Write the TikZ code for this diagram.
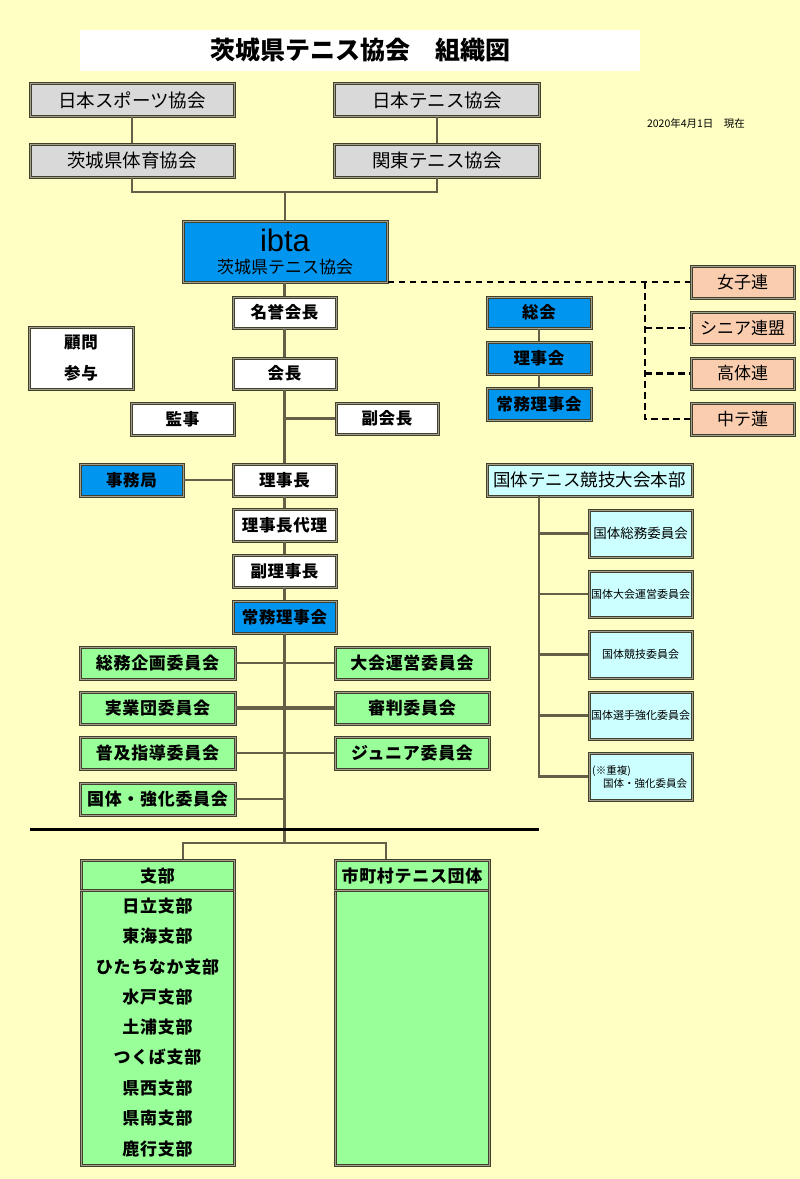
\documentclass[tikz,border=0pt]{standalone}
\usepackage{fontspec}
\setmainfont{Noto Sans CJK JP}
\newfontfamily\lat{Liberation Sans}
\definecolor{bg}{RGB}{255,255,196}
\definecolor{bdr}{RGB}{65,65,45}
\definecolor{bdin}{RGB}{160,160,140}
\definecolor{connc}{RGB}{100,95,70}
\definecolor{grayf}{RGB}{217,217,217}
\definecolor{bluef}{RGB}{0,150,240}
\definecolor{salf}{RGB}{250,205,175}
\definecolor{cyanf}{RGB}{204,255,255}
\definecolor{greenf}{RGB}{153,255,153}
\newcommand{\lspc}{\addfontfeature{LetterSpace=4}}
\begin{document}
\begin{tikzpicture}[x=1pt,y=-1pt,
  obox/.style={draw=bdr, double=bdin, double distance=0.9pt, line width=1.05pt, inner sep=0pt, align=center},
  gbox/.style={obox, fill=grayf, font=\fontsize{18.5}{20}\selectfont},
  wbox/.style={obox, fill=white, font=\bfseries\fontsize{16.5}{18}\selectfont\lspc},
  bbox/.style={obox, fill=bluef, font=\bfseries\fontsize{16.5}{18}\selectfont\lspc},
  sbox/.style={obox, fill=salf, font=\fontsize{17}{19}\selectfont},
  cbox/.style={obox, fill=cyanf, font=\fontsize{17.5}{19}\selectfont},
  grbox/.style={obox, fill=greenf, font=\bfseries\fontsize{17}{19}\selectfont\lspc},
  txt/.style={inner sep=0pt},
  conn/.style={draw=connc, line width=2.8pt},
  dashline/.style={draw=black, line width=2.6pt, dash pattern=on 6.5pt off 4.5pt},
  sepline/.style={draw=bdr, double=bdin, double distance=0.9pt, line width=1.05pt}
]
\useasboundingbox (0,0) rectangle (800,1179);
\fill[bg] (0,0) rectangle (800,1179);

% title
\node[fill=white, minimum width=560pt, minimum height=41pt, inner sep=0pt,
  font=\bfseries\fontsize{25}{26}\selectfont] (title) at (360,50) {茨城県テニス協会　組織図};
\node[txt, font=\fontsize{10.5}{12}\selectfont] (date) at (696,124) {2020年4月1日　現在};

% top gray boxes
\node[gbox, minimum width=204pt, minimum height=33pt] (nsa) at (132,100) {日本スポーツ協会};
\node[gbox, minimum width=205pt, minimum height=33pt] (nta) at (437,100) {日本テニス協会};
\node[gbox, minimum width=204pt, minimum height=33pt] (ita) at (132,160.5) {茨城県体育協会};
\node[gbox, minimum width=205pt, minimum height=33pt] (kta) at (437,160.5) {関東テニス協会};

% ibta
\node[obox, fill=bluef, minimum width=204pt, minimum height=61pt] (ibta) at (285,251.5) {};
\node[txt, font=\lat\fontsize{31}{32}\selectfont] (ibtat) at (285,240) {ibta};
\node[txt, font=\fontsize{17}{19}\selectfont] (ibtas) at (285,267) {茨城県テニス協会};

% salmon boxes
\node[sbox, minimum width=103pt, minimum height=32pt] (jo) at (742.5,282) {女子連};
\node[sbox, minimum width=103pt, minimum height=32pt] (sen) at (742.5,328) {シニア連盟};
\node[sbox, minimum width=103pt, minimum height=31pt] (kou) at (742.5,373.5) {高体連};
\node[sbox, minimum width=103pt, minimum height=32pt] (chu) at (742.5,419) {中テ蓮};

% main chain
\node[wbox, minimum width=103pt, minimum height=31pt] (meiyo) at (284.5,312.5) {名誉会長};
\node[wbox, minimum width=103pt, minimum height=31pt] (kaicho) at (284.5,373.5) {会長};
\node[obox, fill=white, minimum width=104pt, minimum height=62pt] (komon) at (81,358) {};
\node[txt, font=\bfseries\fontsize{16.5}{18}\selectfont\lspc] (komont) at (81,343) {顧問};
\node[txt, font=\bfseries\fontsize{16.5}{18}\selectfont\lspc] (sanyo) at (81,373) {参与};
\node[wbox, minimum width=103pt, minimum height=32pt] (kanji) at (182.5,419) {監事};
\node[wbox, minimum width=102pt, minimum height=31pt] (fuku) at (387,418.5) {副会長};
\node[bbox, minimum width=103pt, minimum height=32pt] (jimu) at (131.5,480) {事務局};
\node[wbox, minimum width=103pt, minimum height=32pt] (rijicho) at (284.5,480) {理事長};
\node[wbox, minimum width=103pt, minimum height=32pt] (dairi) at (284.5,525) {理事長代理};
\node[wbox, minimum width=103pt, minimum height=32pt] (fukuriji) at (284.5,571) {副理事長};
\node[bbox, minimum width=103pt, minimum height=32pt] (jomu) at (284.5,617) {常務理事会};

% right blue boxes
\node[bbox, minimum width=104pt, minimum height=31pt] (sokai) at (539,312.5) {総会};
\node[bbox, minimum width=104pt, minimum height=32pt] (rijikai) at (539,358) {理事会};
\node[bbox, minimum width=104pt, minimum height=32pt] (jomu2) at (539,404) {常務理事会};

% kokutai
\node[cbox, minimum width=205pt, minimum height=32pt] (koku) at (589.5,480) {国体テニス競技大会本部};
\node[obox, fill=cyanf, minimum width=103pt, minimum height=47pt, font=\fontsize{13.5}{15}\selectfont] (k1) at (640.5,533.5) {国体総務委員会};
\node[obox, fill=cyanf, minimum width=103pt, minimum height=46pt, font=\fontsize{11}{13}\selectfont] (k2) at (640.5,594) {国体大会運営委員会};
\node[obox, fill=cyanf, minimum width=103pt, minimum height=47pt, font=\fontsize{11}{13}\selectfont] (k3) at (640.5,654.5) {国体競技委員会};
\node[obox, fill=cyanf, minimum width=103pt, minimum height=47pt, font=\fontsize{11}{13}\selectfont] (k4) at (640.5,715.5) {国体選手強化委員会};
\node[obox, fill=cyanf, minimum width=103pt, minimum height=47pt] (k5) at (640.5,776.5) {};
\node[txt, anchor=west, font=\fontsize{10.5}{12}\selectfont] (k5a) at (592,771) {(※重複)};
\node[txt, font=\fontsize{10.5}{12}\selectfont] (k5b) at (645,784) {国体・強化委員会};
\coordinate (kv) at (539,496);

% green committees
\node[grbox, minimum width=155pt, minimum height=32pt] (g1) at (157.5,663) {総務企画委員会};
\node[grbox, minimum width=154pt, minimum height=32pt] (g2) at (412,663) {大会運営委員会};
\node[grbox, minimum width=155pt, minimum height=32pt] (g3) at (157.5,708) {実業団委員会};
\node[grbox, minimum width=154pt, minimum height=32pt] (g4) at (412,708) {審判委員会};
\node[grbox, minimum width=155pt, minimum height=32pt] (g5) at (157.5,753) {普及指導委員会};
\node[grbox, minimum width=154pt, minimum height=32pt] (g6) at (412,753) {ジュニア委員会};
\node[grbox, minimum width=155pt, minimum height=32pt] (g7) at (157.5,799) {国体・強化委員会};

% bottom boxes
\node[obox, fill=greenf, minimum width=153pt, minimum height=305pt] (shibu) at (157.5,1012.5) {};
\node[obox, fill=greenf, minimum width=154pt, minimum height=305pt] (shicho) at (412,1012.5) {};
\draw[sepline] (shibu.north west) ++(0,31) -- ++(153,0);
\draw[sepline] (shicho.north west) ++(0,31) -- ++(154,0);
\begin{scope}[every node/.style={txt, font=\bfseries\fontsize{17}{19}\selectfont\lspc}]
\node (sh0) at (157.5,876) {支部};
\node (sc0) at (412,876) {市町村テニス団体};
\node (sh1) at (157.5,906) {日立支部};
\node (sh2) at (157.5,936.5) {東海支部};
\node (sh3) at (157.5,967) {ひたちなか支部};
\node (sh4) at (157.5,997) {水戸支部};
\node (sh5) at (157.5,1027.5) {土浦支部};
\node (sh6) at (157.5,1057.5) {つくば支部};
\node (sh7) at (157.5,1088) {県西支部};
\node (sh8) at (157.5,1118.5) {県南支部};
\node (sh9) at (157.5,1149) {鹿行支部};
\end{scope}

% connectors
\coordinate (tj) at (285,192);
\draw[conn] (nsa) -- (ita);
\draw[conn] (nta) -- (kta);
\draw[conn] (ita.south) |- (tj) -| (kta.south);
\draw[conn] (tj) -- (ibta.north);
\draw[conn] (ibta.south -| meiyo) -- (meiyo.north);
\draw[conn] (meiyo) -- (kaicho);
\draw[conn] (kaicho) -- (rijicho);
\draw[conn] (fuku.west) -- (fuku.west -| kaicho);
\draw[conn] (jimu) -- (rijicho);
\draw[conn] (rijicho) -- (dairi);
\draw[conn] (dairi) -- (fukuriji);
\draw[conn] (fukuriji) -- (jomu);
\coordinate (br) at (284.5,843);
\draw[conn] (jomu.south) -- (br);
\draw[conn] (g1.east) -- (g2.west);
\draw[conn, line width=3.6pt] (g3.east) -- (g4.west);
\draw[conn] (g5.east) -- (g6.west);
\draw[conn] (g7.east) -- (g7.east -| jomu);
\draw[conn] ([xshift=25.5pt]shibu.north) |- (br) -| ([xshift=-26pt]shicho.north);
\draw[conn] (sokai) -- (rijikai);
\draw[conn] (rijikai) -- (jomu2);
\draw[conn] (kv) |- (k5.west);
\draw[conn] (k1.west -| kv) -- (k1.west);
\draw[conn] (k2.west -| kv) -- (k2.west);
\draw[conn] (k3.west -| kv) -- (k3.west);
\draw[conn] (k4.west -| kv) -- (k4.west);

% black divider
\coordinate (bl1) at (30,829);
\coordinate (bl2) at (539,829);
\draw[black, line width=3pt] (bl1) -- (bl2);

% dashed links
\coordinate (dv) at (645,282);
\draw[dashline] (ibta.east |- jo.west) -- (jo.west);
\draw[dashline] (dv) |- (chu.west);
\draw[dashline] (sen.west -| dv) -- (sen.west);
\draw[dashline] (kou.west -| dv) -- (kou.west);
\end{tikzpicture}
\end{document}
